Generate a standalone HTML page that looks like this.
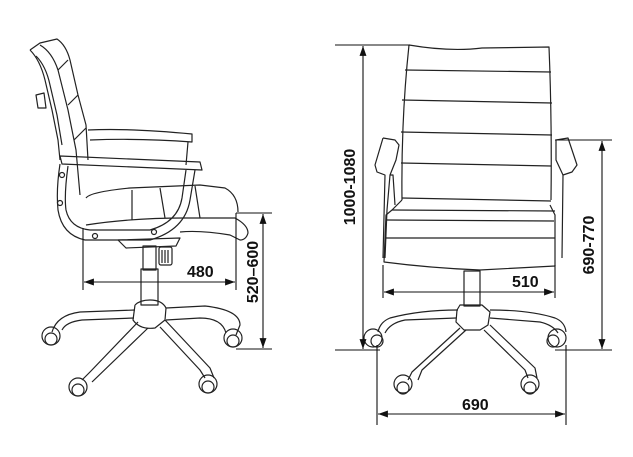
<!DOCTYPE html>
<html><head><style>
html,body{margin:0;padding:0;background:#fff;}
svg{display:block;}
text{font-family:"Liberation Sans",sans-serif;font-weight:bold;font-size:16px;fill:#111;}
</style></head><body>
<svg width="633" height="457" viewBox="0 0 633 457" xmlns="http://www.w3.org/2000/svg">
<defs>
<marker id="a" viewBox="0 0 10 10" refX="10" refY="5" markerWidth="9" markerHeight="9" orient="auto-start-reverse"><path d="M0,1.5 L10,5 L0,8.5 Z" fill="#111"/></marker>
</defs>
<g fill="none" stroke="#222" stroke-width="1.2" stroke-linejoin="round">
<path d="M30,50 L40,43 L57,39 Q66,45 70,60 L78,95 L86,125 L88,160"/>
<path d="M30,50 Q40,60 45,80 L52,110 L58,140 L60,160"/>
<path d="M36,56 Q46,66 50,85 L57,115 L62,145"/>
<path d="M40,45 Q52,52 58,70 L68,110 L76,150 L80,195"/>
<path d="M58,70 L68,60 M68,105 L78,95 M74,140 L86,128"/>
<path d="M36,95 L44,93 L46,108 L38,108 Z"/>
<path d="M88,130 Q130,128 192,134 L192,142 Q140,138 90,140"/>
<path d="M188,142 L186,165"/>
<path d="M60,156 L200,162 L202,170 L62,164 Z"/>
<path d="M60,164 Q56,190 58,210 Q62,235 85,240 L150,240 Q185,230 190,200 L195,170"/>
<path d="M68,166 Q64,195 66,210 Q70,228 90,230 L150,230 Q178,222 182,198 L186,170"/>
<circle cx="62" cy="175" r="2.5"/><circle cx="60" cy="203" r="2.5"/>
<circle cx="95" cy="236" r="2.5"/><circle cx="154" cy="232" r="2.5"/>
<path d="M86,198 Q90,192 130,188 L200,185 L225,188 Q238,195 238,212"/>
<path d="M86,225 Q130,218 185,218 L235,218 Q248,225 248,233 Q246,240 240,240 L230,235 Q200,230 180,232"/>
<path d="M132,190 L132,220 M160,188 L165,218 M195,186 L200,218"/>
<path d="M118,240 L180,238 L176,246 L126,248 Z"/>
<rect x="159" y="247" width="13" height="18" rx="2"/>
<path d="M162,250 L162,263 M165,250 L165,263 M168,250 L168,263"/>
<rect x="143" y="246" width="13" height="24"/>
<rect x="141" y="269" width="17" height="36"/>
<path d="M135,305 Q140,300 150,300 Q162,300 166,308 L205,306 Q240,310 240,325 L236,335 M226,333 Q222,318 200,318 L166,320"/>
<path d="M135,310 L80,312 Q57,315 52,332 M62,330 Q66,322 82,320 L134,318"/>
<path d="M138,322 L90,372 L82,380 M92,382 L148,328"/>
<path d="M160,327 L200,370 L205,378 M214,378 L210,368 L165,320"/>
<path d="M135,305 L133,320 Q140,330 155,328 L165,320 L166,308"/>
<circle cx="51" cy="336" r="9"/><circle cx="51" cy="339" r="6"/>
<circle cx="78" cy="387" r="9"/><circle cx="78" cy="390" r="6"/>
<circle cx="208" cy="384" r="9"/><circle cx="208" cy="387" r="6"/>
<circle cx="233" cy="338" r="9"/><circle cx="233" cy="341" r="6"/>
<path d="M409,45 Q450,52 482,48 L549,47 Q552,120 551,200"/>
<path d="M409,45 Q401,120 402,200"/>
<path d="M405,70 L551,72 M402,100 L552,103 M401,132 L552,135 M401,163 L551,166 M402,198 L551,201"/>
<path d="M402,200 L392,210 L386,215 L384,262 Q430,268 480,270 L555,266 L555,215 L550,205"/>
<path d="M392,210 L555,211 M387,220 L554,221 M386,238 L555,238"/>
<path d="M383,138 L395,140 L399,145 L396,160 L390,175 L387,210 L385,258"/>
<path d="M383,138 L375,165 L377,172 L385,175 L383,258"/>
<path d="M390,175 L393,175 L395,205"/>
<path d="M556,140 L568,138 L577,165 L572,172 L563,175 L562,258"/>
<path d="M556,140 L556,160 L563,175"/>
<rect x="464" y="271" width="16" height="35"/>
<path d="M460,305 L482,305 L490,312 L488,325 L480,330 L464,330 L456,322 L457,310 Z"/>
<path d="M458,310 Q420,310 390,318 Q380,322 378,332 M385,333 Q390,323 405,320 L456,318"/>
<path d="M490,310 Q530,310 555,318 Q565,322 566,332 M558,333 Q553,325 540,322 L490,318"/>
<path d="M460,328 L412,372 L408,380 M418,380 L422,370 L466,330"/>
<path d="M484,330 L525,370 L528,378 M537,378 L535,368 L490,325"/>
<circle cx="373" cy="338" r="9"/><circle cx="377" cy="341" r="6"/>
<circle cx="403" cy="384" r="9"/><circle cx="403" cy="388" r="6"/>
<circle cx="530" cy="384" r="9"/><circle cx="530" cy="388" r="6"/>
<circle cx="557" cy="338" r="9"/><circle cx="553" cy="341" r="6"/>
</g>
<g stroke="#111" stroke-width="1.1" fill="none">
<path d="M83,228 L83,290 M236,213 L236,290"/>
<line x1="84" y1="282" x2="235" y2="282" marker-start="url(#a)" marker-end="url(#a)"/>
<path d="M236,213 L272,213 M236,349 L272,349"/>
<line x1="263" y1="214" x2="263" y2="348" marker-start="url(#a)" marker-end="url(#a)"/>
<path d="M335,45 L410,45 M335,350 L380,350"/>
<line x1="363" y1="46" x2="363" y2="349" marker-start="url(#a)" marker-end="url(#a)"/>
<path d="M555,140 L612,140 M555,350 L612,350"/>
<line x1="602" y1="141" x2="602" y2="349" marker-start="url(#a)" marker-end="url(#a)"/>
<path d="M383,265 L383,298 M555,265 L555,298"/>
<line x1="384" y1="292" x2="554" y2="292" marker-start="url(#a)" marker-end="url(#a)"/>
<path d="M377,345 L377,425 M566,345 L566,425"/>
<line x1="378" y1="414" x2="565" y2="414" marker-start="url(#a)" marker-end="url(#a)"/>
</g>
<text x="187" y="277">480</text>
<text transform="translate(258,272) rotate(-90)" text-anchor="middle">520–600</text>
<text transform="translate(355,187) rotate(-90)" text-anchor="middle">1000-1080</text>
<text transform="translate(594,245) rotate(-90)" text-anchor="middle">690-770</text>
<text x="512" y="287">510</text>
<text x="462" y="410">690</text>
</svg>
</body></html>
